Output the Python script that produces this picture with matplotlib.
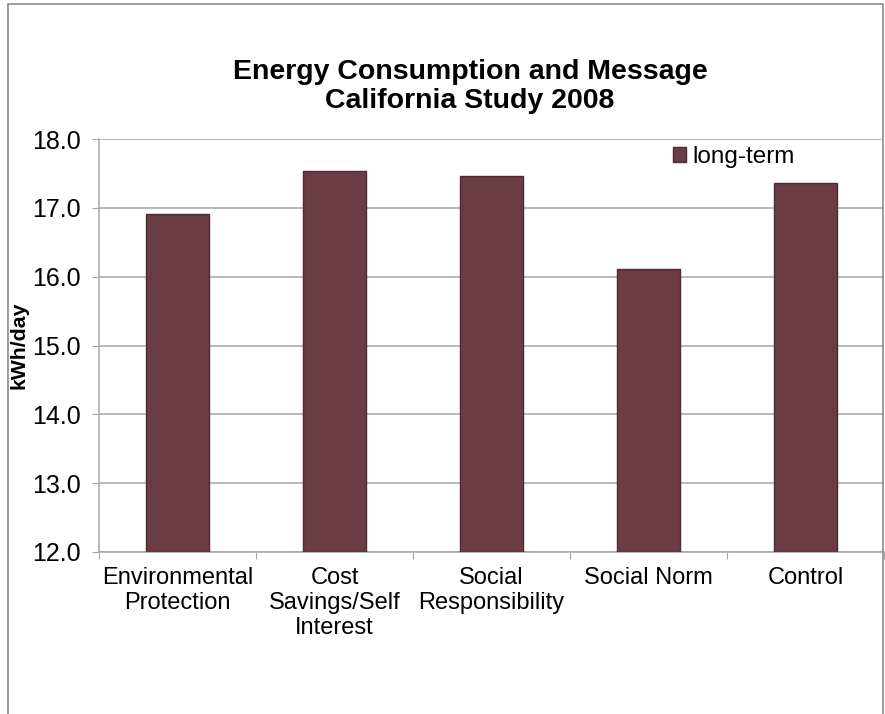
import matplotlib.pyplot as plt
import matplotlib.patches as mpatches
import numpy as np

plt.rcParams.update({
    "font.family": ["Liberation Sans", "DejaVu Sans"],
    "text.color": "black",
})

categories = ["Environmental\nProtection", "Cost\nSavings/Self\nInterest",
              "Social\nResponsibility", "Social Norm", "Control"]
long_term = [16.91, 17.54, 17.46, 16.11, 17.36]
yticks = [12.0, 13.0, 14.0, 15.0, 16.0, 17.0, 18.0]

bar_color = "#6a3c46"
grid_color = "#a6a6a6"

fig = plt.figure(figsize=(8.85, 7.14), dpi=100)
ax = fig.add_axes([0.1119, 0.2269, 0.887, 0.5784])

x = np.arange(len(categories))
ax.bar(x, np.array(long_term) - 12.0, bottom=12.0, width=0.4,
       color=bar_color, edgecolor="#4e2a33", linewidth=1.0,
       label="long-term", zorder=3)

ax.set_xlim(-0.5, len(categories) - 0.5)
ax.set_ylim(12.0, 18.0)
ax.set_yticks(yticks)
ax.set_yticklabels([f"{v:.1f}" for v in yticks], fontsize=18)
ax.yaxis.grid(True, color=grid_color, linewidth=1.1, zorder=0)

# category boundaries as major ticks, labels on minor ticks
ax.set_xticks(np.arange(len(categories) + 1) - 0.5)
ax.set_xticklabels([])
ax.set_xticks(x, minor=True)
ax.set_xticklabels(categories, minor=True, fontsize=17, linespacing=1.16)
ax.tick_params(axis="x", which="minor", length=0, pad=11)
ax.tick_params(axis="x", which="major", length=5, color=grid_color)
ax.tick_params(axis="y", length=5, color=grid_color, pad=8)

for side in ["top", "right"]:
    ax.spines[side].set_visible(False)
for side in ["left", "bottom"]:
    ax.spines[side].set_color(grid_color)
    ax.spines[side].set_linewidth(1.1)

ax.set_ylabel("kWh/day", fontsize=15.3, fontweight="bold", labelpad=3)

ax.legend(loc="upper left", bbox_to_anchor=(0.703, 1.036), frameon=False,
          fontsize=17.5, handlelength=0.55, handleheight=0.55, handletextpad=0.25)

fig.text(0.531, 0.8795, "Energy Consumption and Message\nCalifornia Study 2008",
         ha="center", va="center", fontsize=20.5, fontweight="bold",
         linespacing=1.15)

# outer chart border
fig.patches.append(mpatches.Rectangle((8 / 885, -0.05), 875 / 885, 1.05 - 4 / 714,
                                      transform=fig.transFigure, fill=False,
                                      edgecolor="#8c8c8c", linewidth=1.2))

fig.savefig("out.png", dpi=100)
